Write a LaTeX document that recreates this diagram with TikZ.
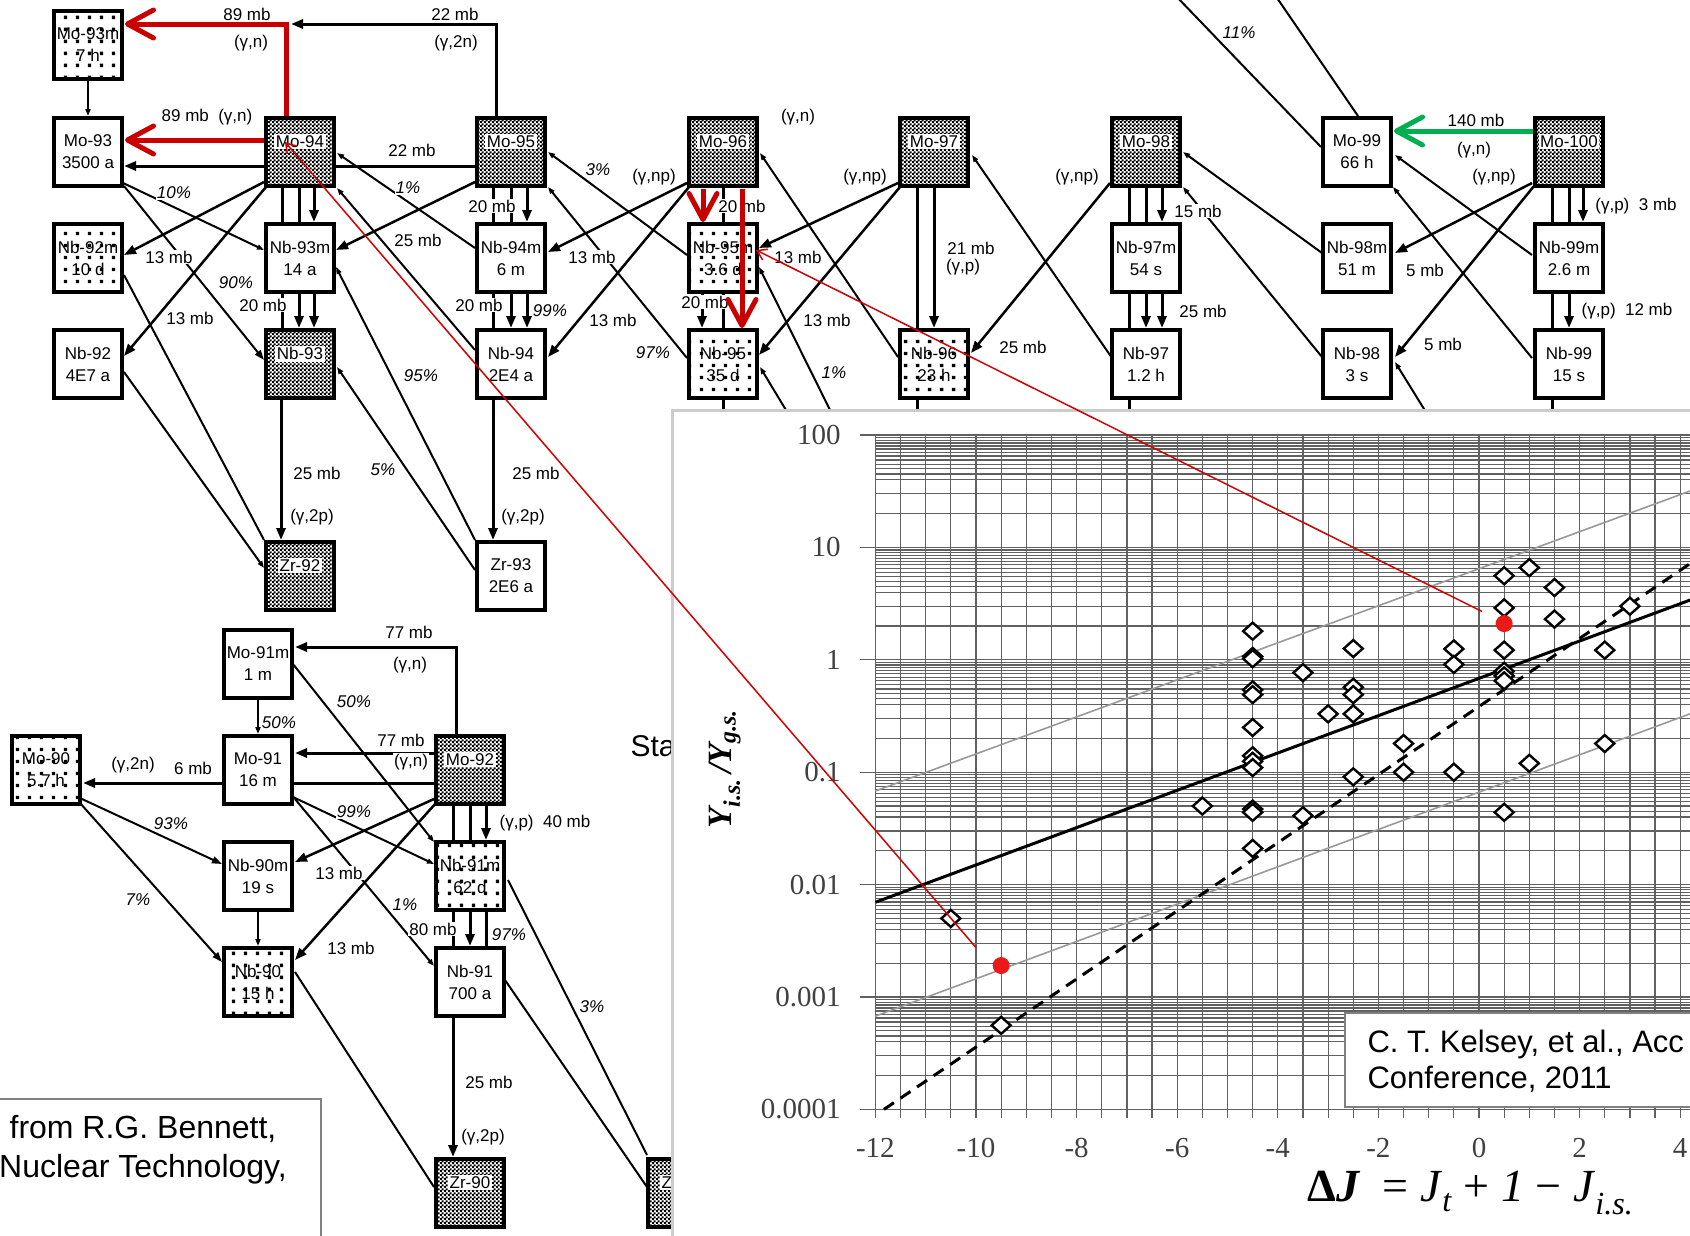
\documentclass[tikz,border=0pt]{standalone}
\usepackage{fontspec}
\setmainfont{Liberation Sans}
\newfontfamily\plotfont{Liberation Serif}
\usepackage{tikz}
\usetikzlibrary{positioning,arrows.meta,calc,patterns,backgrounds}

\pgfdeclarepatternformonly{finecheck}{\pgfpointorigin}{\pgfqpoint{4pt}{4pt}}{\pgfqpoint{4pt}{4pt}}{%
  \pgfpathrectangle{\pgfpointorigin}{\pgfqpoint{2.4pt}{2.4pt}}%
  \pgfpathrectangle{\pgfqpoint{2pt}{2pt}}{\pgfqpoint{2.4pt}{2.4pt}}%
  \pgfusepath{fill}}
\pgfdeclarepatternformonly{sparsedots}{\pgfpointorigin}{\pgfqpoint{12pt}{12pt}}{\pgfqpoint{12pt}{12pt}}{%
  \pgfpathrectangle{\pgfqpoint{4.25pt}{4.25pt}}{\pgfqpoint{3.5pt}{3.5pt}}%
  \pgfusepath{fill}}

\definecolor{redarrow}{RGB}{200,0,0}
\definecolor{greenarrow}{RGB}{0,176,80}
\definecolor{pointerred}{RGB}{210,0,0}
\definecolor{reddot}{RGB}{235,25,25}

\newcommand{\stab}[1]{{\setlength{\fboxsep}{1.5pt}\colorbox{white}{#1}}}

\begin{document}
\begin{tikzpicture}[
    x=1pt, y=-1pt,
    font=\fontsize{17}{22}\selectfont,
    nuclide/.style={draw, line width=3.5pt, minimum width=68pt, minimum height=68pt,
      inner sep=0pt, align=center},
    plainnuc/.style={nuclide, fill=white},
    dotnuc/.style={nuclide, preaction={fill=white}, pattern=sparsedots},
    stablenuc/.style={nuclide, preaction={fill=white}, pattern=finecheck},
    rxn/.style={line width=3pt, -{Triangle[length=12pt,width=9pt]}},
    slantrxn/.style={line width=2.5pt, -{Triangle[length=12pt,width=9pt]}},
    linkbar/.style={line width=3pt},
    decay/.style={line width=2pt, -{Triangle[length=7pt,width=5pt]}},
    decaybig/.style={line width=2pt, -{Triangle[length=10pt,width=7pt]}},
    decayline/.style={line width=2pt},
    bigred/.style={draw=redarrow, line width=5pt,
      -{Straight Barb[length=26pt,width=28pt,line cap=round,line join=round]}},
    biggreen/.style={bigred, draw=greenarrow},
    pointer/.style={draw=pointerred, line width=1.5pt, -{Straight Barb[length=9pt,width=12pt]}},
    lab/.style={fill=white, inner sep=1pt},
    pct/.style={lab, font=\fontsize{17}{22}\selectfont\itshape},
    gridline/.style={draw=black!62, line width=1.2pt},
    fitgray/.style={draw=black!40, line width=1.6pt},
    fitsolid/.style={draw=black, line width=3pt},
    fitdash/.style={draw=black, line width=3pt, dash pattern=on 12pt off 8pt},
    diam/.style={draw=black, fill=white, line width=2.4pt},
    ticklab/.style={font=\plotfont\fontsize{29}{31}\selectfont, text=black!75},
    citeframe/.style={draw=black!50, line width=1.2pt, fill=white}
  ]
  \useasboundingbox (0,0) rectangle (1690,1235);

  % upper chart
  \node[dotnuc] (mo93m) at (88,45) {Mo-93m\\7 h};
  \node[plainnuc] (mo93) at (88,152) {Mo-93\\3500 a};
  \node[stablenuc] (mo94) at (300,152) {\stab{Mo-94}\\\mbox{}};
  \node[stablenuc] (mo95) at (511,152) {\stab{Mo-95}\\\mbox{}};
  \node[stablenuc] (mo96) at (723,152) {\stab{Mo-96}\\\mbox{}};
  \node[stablenuc] (mo97) at (934,152) {\stab{Mo-97}\\\mbox{}};
  \node[stablenuc] (mo98) at (1146,152) {\stab{Mo-98}\\\mbox{}};
  \node[plainnuc] (mo99) at (1357,152) {Mo-99\\66 h};
  \node[stablenuc] (mo100) at (1569,152) {\stab{Mo-100}\\\mbox{}};
  \node[dotnuc] (nb92m) at (88,258) {Nb-92m\\10 d};
  \node[plainnuc] (nb93m) at (300,258) {Nb-93m\\14 a};
  \node[plainnuc] (nb94m) at (511,258) {Nb-94m\\6 m};
  \node[dotnuc] (nb95m) at (723,258) {Nb-95m\\3.6 d};
  \node[plainnuc] (nb97m) at (1146,258) {Nb-97m\\54 s};
  \node[plainnuc] (nb98m) at (1357,258) {Nb-98m\\51 m};
  \node[plainnuc] (nb99m) at (1569,258) {Nb-99m\\2.6 m};
  \node[plainnuc] (nb92) at (88,364) {Nb-92\\4E7 a};
  \node[stablenuc] (nb93) at (300,364) {\stab{Nb-93}\\\mbox{}};
  \node[plainnuc] (nb94) at (511,364) {Nb-94\\2E4 a};
  \node[dotnuc] (nb95) at (723,364) {Nb-95\\35 d};
  \node[dotnuc] (nb96) at (934,364) {Nb-96\\23 h};
  \node[plainnuc] (nb97) at (1146,364) {Nb-97\\1.2 h};
  \node[plainnuc] (nb98) at (1357,364) {Nb-98\\3 s};
  \node[plainnuc] (nb99) at (1569,364) {Nb-99\\15 s};
  \node[stablenuc] (zr92) at (300,576) {\stab{Zr-92}\\\mbox{}};
  \node[plainnuc] (zr93) at (511,576) {Zr-93\\2E6 a};

  % lower chart
  \node[plainnuc] (mo91m) at (258,664) {Mo-91m\\1 m};
  \node[dotnuc] (mo90) at (46,770) {Mo-90\\5.7 h};
  \node[plainnuc] (mo91) at (258,770) {Mo-91\\16 m};
  \node[stablenuc] (mo92) at (470,770) {\stab{Mo-92}\\\mbox{}};
  \node[plainnuc] (nb90m) at (258,876) {Nb-90m\\19 s};
  \node[dotnuc] (nb91m) at (470,876) {Nb-91m\\62 d};
  \node[dotnuc] (nb90) at (258,982) {Nb-90\\15 h};
  \node[plainnuc] (nb91) at (470,982) {Nb-91\\700 a};
  \node[stablenuc] (zr90) at (470,1193) {\stab{Zr-90}\\\mbox{}};
  \node[stablenuc] (zr91) at (682,1193) {\stab{Zr-91}\\\mbox{}};

  \coordinate (topa) at (1175,-5);
  \coordinate (topb) at (1275,-5);
  \coordinate (ua) at (723,440);
  \coordinate (ub) at (917,440);
  \coordinate (uc) at (1129,440);
  \coordinate (ud) at (1552,440);
  \coordinate (ue) at (840,430);
  \coordinate (uf) at (798,430);
  \coordinate (ug) at (1437,430);

  \begin{scope}[on background layer]
    % (g,n) and (g,2n)
    \draw[rxn] ($(mo95)+(-15,-36)$) |- ($(mo94)+(-9,-128)$);
    \draw[decay] ($(mo93m)+(0,36)$) -- ($(mo93)+(0,-36)$);
    \draw[rxn] ($(mo95)+(-36,14)$) -- ($(mo93)+(36,14)$);
    % (g,np)
    \draw[slantrxn] ($(mo94)+(-36,30)$) -- ($(nb92m)+(36,-3)$);
    \draw[slantrxn] ($(mo94)+(-34,35)$) -- ($(nb92)+(36,-8)$);
    \draw[slantrxn] ($(mo95)+(-36,30)$) -- ($(nb93m)+(36,-8)$);
    \draw[slantrxn] ($(mo96)+(-36,31)$) -- ($(nb94m)+(37,-6)$);
    \draw[slantrxn] ($(mo96)+(-34,35)$) -- ($(nb94)+(37,-7)$);
    \draw[slantrxn] ($(mo97)+(-36,31)$) -- ($(nb95m)+(36,-10)$);
    \draw[slantrxn] ($(mo97)+(-34,35)$) -- ($(nb95)+(36,-9)$);
    \draw[slantrxn] ($(mo98)+(-36,31)$) -- ($(nb96)+(37,-11)$);
    \draw[slantrxn] ($(mo100)+(-37,31)$) -- ($(nb98m)+(38,-5)$);
    \draw[slantrxn] ($(mo100)+(-35,34)$) -- ($(nb98)+(38,-7)$);
    % decays
    \draw[decay] ($(mo93)+(33,30)$) -- ($(nb93m)+(-36,-8)$);
    \draw[decaybig] ($(mo93)+(36,34)$) -- ($(nb93)+(-36,-4)$);
    \draw[decay] ($(nb94m)+(-36,-10)$) -- ($(mo94)+(37,1)$);
    \draw[decay] ($(nb94)+(-36,-14)$) -- ($(mo94)+(37,36)$);
    \draw[decay] ($(nb95m)+(-36,-3)$) -- ($(mo95)+(37,0)$);
    \draw[decay] ($(nb95)+(-36,-6)$) -- ($(mo95)+(37,35)$);
    \draw[decay] ($(nb96)+(-36,-7)$) -- ($(mo96)+(37,1)$);
    \draw[decay] ($(nb97)+(-34,-6)$) -- ($(mo97)+(38,3)$);
    \draw[decay] ($(nb98m)+(-35,-5)$) -- ($(mo98)+(37,0)$);
    \draw[decay] ($(nb98)+(-35,-7)$) -- ($(mo98)+(37,35)$);
    \draw[decay] ($(nb99m)+(-37,-3)$) -- ($(mo99)+(38,3)$);
    \draw[decay] ($(nb99)+(-37,-6)$) -- ($(mo99)+(36,35)$);
    \draw[decayline] (topa) -- ($(mo99)+(-36,-5)$);
    \draw[decayline] (topb) -- ($(mo99)+(1,-36)$);
    % (g,p) stacks
    \draw[linkbar] ($(mo94)+(-18,36)$) -- ($(nb93m)+(-18,-36)$);
    \draw[linkbar] ($(mo94)+(-1,36)$) -- ($(nb93m)+(-1,-36)$);
    \draw[rxn] ($(mo94)+(14,36)$) -- ($(nb93m)+(14,-36)$);
    \draw[linkbar] ($(nb93m)+(-18,36)$) -- ($(nb93)+(-18,-36)$);
    \draw[rxn] ($(nb93m)+(-1,36)$) -- ($(nb93)+(-1,-36)$);
    \draw[rxn] ($(nb93m)+(14,36)$) -- ($(nb93)+(14,-36)$);
    \draw[linkbar] ($(mo95)+(-18,36)$) -- ($(nb94m)+(-18,-36)$);
    \draw[linkbar] ($(mo95)+(0,36)$) -- ($(nb94m)+(0,-36)$);
    \draw[rxn] ($(mo95)+(16,36)$) -- ($(nb94m)+(16,-36)$);
    \draw[linkbar] ($(nb94m)+(-18,36)$) -- ($(nb94)+(-18,-36)$);
    \draw[rxn] ($(nb94m)+(0,36)$) -- ($(nb94)+(0,-36)$);
    \draw[rxn] ($(nb94m)+(16,36)$) -- ($(nb94)+(16,-36)$);
    \draw[linkbar] ($(mo96)+(0,36)$) -- ($(nb95m)+(0,-36)$);
    \draw[rxn] ($(nb95m)+(-21,36)$) -- ($(nb95)+(-21,-36)$);
    \draw[linkbar] ($(nb95m)+(0,36)$) -- ($(nb95)+(0,-36)$);
    \draw[linkbar] ($(mo97)+(-17,36)$) -- ($(nb96)+(-17,-36)$);
    \draw[rxn] ($(mo97)+(0,36)$) -- ($(nb96)+(0,-36)$);
    \draw[linkbar] ($(mo98)+(-17,36)$) -- ($(nb97m)+(-17,-36)$);
    \draw[linkbar] ($(mo98)+(0,36)$) -- ($(nb97m)+(0,-36)$);
    \draw[rxn] ($(mo98)+(16,36)$) -- ($(nb97m)+(16,-36)$);
    \draw[linkbar] ($(nb97m)+(-17,36)$) -- ($(nb97)+(-17,-36)$);
    \draw[rxn] ($(nb97m)+(0,36)$) -- ($(nb97)+(0,-36)$);
    \draw[rxn] ($(nb97m)+(16,36)$) -- ($(nb97)+(16,-36)$);
    \draw[linkbar] ($(mo100)+(-17,36)$) -- ($(nb99m)+(-17,-36)$);
    \draw[linkbar] ($(mo100)+(0,36)$) -- ($(nb99m)+(0,-36)$);
    \draw[rxn] ($(mo100)+(14,36)$) -- ($(nb99m)+(14,-36)$);
    \draw[linkbar] ($(nb99m)+(-17,36)$) -- ($(nb99)+(-17,-36)$);
    \draw[rxn] ($(nb99m)+(0,36)$) -- ($(nb99)+(0,-36)$);
    % zirconium
    \draw[decay] ($(nb92)+(36,8)$) -- ($(zr92)+(-36,-8)$);
    \draw[decayline] ($(nb92m)+(36,17)$) -- ($(zr92)+(-36,-36)$);
    \draw[decay] ($(zr93)+(-36,-6)$) -- ($(nb93)+(37,3)$);
    \draw[decay] ($(zr93)+(-36,-36)$) -- ($(nb93m)+(36,9)$);
    \draw[rxn] ($(nb93)+(-19,36)$) -- ($(zr92)+(-19,-36)$);
    \draw[rxn] ($(nb94)+(-18,36)$) -- ($(zr93)+(-18,-36)$);
    % running under the plot
    \draw[linkbar] ($(nb95)+(0,36)$) -- (ua);
    \draw[linkbar] ($(nb96)+(-17,36)$) -- (ub);
    \draw[linkbar] ($(nb97)+(-17,36)$) -- (uc);
    \draw[linkbar] ($(nb99)+(-17,36)$) -- (ud);
    \draw[decay] (ue) -- ($(nb95m)+(36,9)$);
    \draw[decay] (uf) -- ($(nb95)+(37,3)$);
    \draw[decay] (ug) -- ($(nb98)+(38,-2)$);

    % lower chart connectors
    \draw[rxn] ($(mo92)+(-14,-36)$) |- ($(mo91m)+(37,-17)$);
    \draw[rxn] ($(mo92)+(-36,-17)$) -- ($(mo91)+(37,-17)$);
    \draw[rxn] ($(mo92)+(-36,13)$) -- ($(mo90)+(37,13)$);
    \draw[decay] ($(mo91m)+(0,36)$) -- ($(mo91)+(0,-36)$);
    \draw[decay] ($(mo91m)+(35,0)$) -- ($(nb91m)+(-36,-34)$);
    \draw[decay] ($(mo91)+(35,27)$) -- ($(nb91m)+(-36,-12)$);
    \draw[decay] ($(mo91)+(37,29)$) -- ($(nb91)+(-36,-16)$);
    \draw[slantrxn] ($(mo92)+(-36,29)$) -- ($(nb90m)+(37,-14)$);
    \draw[slantrxn] ($(mo92)+(-34,33)$) -- ($(nb90)+(37,-22)$);
    \draw[decaybig] ($(mo90)+(36,29)$) -- ($(nb90m)+(-36,-12)$);
    \draw[decaybig] ($(mo90)+(34,33)$) -- ($(nb90)+(-36,-20)$);
    \draw[decay] ($(nb90m)+(0,36)$) -- ($(nb90)+(0,-36)$);
    \draw[linkbar] ($(mo92)+(-17,36)$) -- ($(nb91m)+(-17,-36)$);
    \draw[linkbar] ($(mo92)+(0,36)$) -- ($(nb91m)+(0,-36)$);
    \draw[rxn] ($(mo92)+(16,36)$) -- ($(nb91m)+(16,-36)$);
    \draw[linkbar] ($(nb91m)+(-17,36)$) -- ($(nb91)+(-17,-36)$);
    \draw[rxn] ($(nb91m)+(0,36)$) -- ($(nb91)+(0,-36)$);
    \draw[linkbar] ($(nb91m)+(16,36)$) -- ($(nb91)+(16,-36)$);
    \draw[rxn] ($(nb91)+(-17,36)$) -- ($(zr90)+(-17,-36)$);
    \draw[decayline] ($(nb90)+(37,-10)$) -- ($(zr90)+(-36,-6)$);
    \draw[decayline] ($(nb91)+(35,-2)$) -- ($(zr91)+(-35,-6)$);
    \draw[decayline] ($(nb91m)+(38,4)$) -- ($(zr91)+(-35,-38)$);
  \end{scope}

  % labels, upper chart
  \node[lab] (xs89a) at (247,14) {89 mb};
  \node[lab] (gn89a) at (251,43) {(γ,n)};
  \node[lab] (xs22a) at (455,14) {22 mb};
  \node[lab] (g2n22) at (456,43) {(γ,2n)};
  \node[lab] (xs89b) at (207,117) {89 mb\ \ (γ,n)};
  \node[lab] (xs22b) at (412,150) {22 mb};
  \node[lab] (xs13a) at (169,257) {13 mb};
  \node[lab] (xs13b) at (190,318) {13 mb};
  \node[lab] (xs25a) at (418,240) {25 mb};
  \node[pct] (pc10) at (174,193) {10\%};
  \node[pct] (pc90) at (236,283) {90\%};
  \node[pct] (pc1a) at (408,188) {1\%};
  \node[pct] (pc95) at (421,376) {95\%};
  \node[lab] (xs20a) at (263,305) {20 mb};
  \node[lab] (xs20b) at (492,206) {20 mb};
  \node[lab] (xs20c) at (479,305) {20 mb};
  \node[pct] (pc99a) at (550,311) {99\%};
  \node[pct] (pc3a) at (598,170) {3\%};
  \node[lab] (gnp96) at (654,177) {(γ,np)};
  \node[lab] (xs13c) at (592,257) {13 mb};
  \node[lab] (xs13d) at (613,320) {13 mb};
  \node[pct] (pc97a) at (653,353) {97\%};
  \node[lab] (xs20d) at (742,206) {20 mb};
  \node[lab] (xs20e) at (705,302) {20 mb};
  \node[lab] (gn96) at (798,117) {(γ,n)};
  \node[lab] (xs13e) at (798,257) {13 mb};
  \node[lab] (xs13f) at (827,320) {13 mb};
  \node[pct] (pc1b) at (834,373) {1\%};
  \node[lab] (gnp97) at (865,177) {(γ,np)};
  \node[lab] (xs21) at (971,248) {21 mb};
  \node[lab] (gp97) at (963,267) {(γ,p)};
  \node[lab] (gnp98) at (1077,177) {(γ,np)};
  \node[lab] (xs25b) at (1023,347) {25 mb};
  \node[lab] (xs15) at (1198,211) {15 mb};
  \node[lab] (xs25c) at (1203,311) {25 mb};
  \node[pct] (pc11) at (1239,33) {11\%};
  \node[lab] (xs140) at (1476,120) {140 mb};
  \node[lab] (gn100) at (1474,150) {(γ,n)};
  \node[lab] (gnp100) at (1494,177) {(γ,np)};
  \node[lab] (xs3) at (1636,206) {(γ,p)\ \ 3 mb};
  \node[lab] (xs5a) at (1425,270) {5 mb};
  \node[lab] (xs12) at (1627,311) {(γ,p)\ \ 12 mb};
  \node[lab] (xs5b) at (1443,344) {5 mb};
  \node[lab] (xs25d) at (317,473) {25 mb};
  \node[lab] (g2p92) at (312,517) {(γ,2p)};
  \node[pct] (pc5) at (383,470) {5\%};
  \node[lab] (xs25e) at (536,473) {25 mb};
  \node[lab] (g2p93) at (523,517) {(γ,2p)};

  % labels, lower chart
  \node[lab] (xs77a) at (409,632) {77 mb};
  \node[lab] (gn77a) at (410,665) {(γ,n)};
  \node[pct] (pc50a) at (354,702) {50\%};
  \node[pct] (pc50b) at (279,723) {50\%};
  \node[lab] (xs77b) at (401,740) {77 mb};
  \node[lab] (gn77b) at (411,762) {(γ,n)};
  \node[pct] (pc99b) at (354,812) {99\%};
  \node[lab] (g2n6) at (133,765) {(γ,2n)};
  \node[lab] (xs6) at (193,768) {6 mb};
  \node[pct] (pc93) at (171,824) {93\%};
  \node[pct] (pc7) at (138,900) {7\%};
  \node[lab] (xs13g) at (339,873) {13 mb};
  \node[pct] (pc1c) at (405,905) {1\%};
  \node[lab] (xs13h) at (351,948) {13 mb};
  \node[lab] (xs40) at (545,823) {(γ,p)\ \ 40 mb};
  \node[lab] (xs80) at (433,929) {80 mb};
  \node[pct] (pc97b) at (509,935) {97\%};
  \node[lab] (xs25f) at (489,1082) {25 mb};
  \node[lab] (g2p90) at (483,1137) {(γ,2p)};
  \node[pct] (pc3b) at (592,1007) {3\%};

  % highlighted paths
  \draw[bigred] ($(mo94)+(-14,-36)$) |- ($(mo93m)+(37,-21)$);
  \draw[bigred] ($(mo94)+(-36,-12)$) -- ($(mo93)+(37,-12)$);
  \draw[bigred] ($(mo96)+(-20,37)$) -- ($(nb95m)+(-20,-36)$);
  \draw[bigred] ($(mo96)+(19,37)$) -- ($(nb95)+(19,-36)$);
  \draw[biggreen] ($(mo100)+(-36,-21)$) -- ($(mo99)+(37,-21)$);

  \node[anchor=west, font=\fontsize{30}{34}\selectfont] (sta) at (627,746) {Sta};

  % isomer ratio plot
  \draw[draw=black!20, line width=3pt, fill=white] (672,410) rectangle (1710,1250);
  \begin{scope}[shift={(1479,659.8)}, x=50.3pt, y=112.4pt]
    \foreach \u in {-12,-11.5,...,4.5}
      \draw[gridline] (\u,-4.08) -- (\u,2);
    \foreach \d in {-4,...,1} {
      \draw[gridline] (-12.3,\d) -- (4.6,\d);
      \foreach \k in {2,3,4,4.5,5,5.5,6,6.5,7,7.5,8,8.5,9,9.5}
        \draw[gridline] (-12,{\d+log10(\k)}) -- (4.6,{\d+log10(\k)});
    }
    \draw[gridline] (-12.3,2) -- (4.6,2);
    \draw[fitgray] (-12,-1.167) -- (4.5,1.552);
    \draw[fitgray] (-12,-3.17) -- (4.5,-0.43);
    \draw[fitsolid] (-12,-2.157) -- (4.5,0.582);
    \draw[fitdash] (-11.83,-4) -- (4.5,0.948);
    \foreach \u/\L in {-10.5/-2.301,-9.5/-3.252,-5.5/-1.301,
        -4.5/0.255,-4.5/0.03,-4.5/0.01,-4.5/-0.268,-4.5/-0.31,-4.5/-0.602,
        -4.5/-0.854,-4.5/-0.903,-4.5/-0.959,-4.5/-1.328,-4.5/-1.357,-4.5/-1.678,
        -3.5/-0.114,-3.5/-1.387,-3/-0.481,
        -2.5/0.1,-2.5/-0.244,-2.5/-0.31,-2.5/-0.481,-2.5/-1.041,
        -1.5/-0.745,-1.5/-1.0,-0.5/0.097,-0.5/-0.041,-0.5/-1.0,
        0.5/0.748,0.5/0.462,0.5/0.086,0.5/-0.102,0.5/-0.143,0.5/-0.187,0.5/-1.357,
        1/0.82,1/-0.921,1.5/0.643,1.5/0.362,2.5/0.086,2.5/-0.745,3/0.477}
      \draw[diam] (\u,\L) +(0pt,8.5pt) -- +(9.5pt,0pt) -- +(0pt,-8.5pt) -- +(-9.5pt,0pt) -- cycle;
    \fill[reddot] (-9.5,-2.72) circle (8.5pt);
    \fill[reddot] (0.5,0.322) circle (8.5pt);
    \coordinate (ptra) at (-10,-2.56);
    \coordinate (ptrb) at (0.06,0.43);
    \foreach \L/\txt [count=\i] in {2/100,1/10,0/1,-1/0.1,-2/0.01,-3/0.001,-4/0.0001}
      \node[ticklab, anchor=east] (ytick\i) at (-12.62,\L) {\txt};
    \foreach \u [count=\i] in {-12,-10,...,4}
      \node[ticklab] (xtick\i) at (\u,-4.34) {\u};
  \end{scope}
  \node[rotate=90, font=\plotfont\fontsize{34}{40}\selectfont\bfseries\itshape] (ylab)
    at (725,769) {Y\textsubscript{i.s.}\,/Y\textsubscript{g.s.}};
  \node[anchor=west, font=\plotfont\fontsize{46}{50}\selectfont] (xlab) at (1304,1193)
    {{\bfseries Δ\textit{J}}\hspace{22pt}= \textit{J}\textsubscript{\textit{t}} + \textit{1} − \textit{J}\textsubscript{\textit{i.s.}}};

  \draw[pointer] (ptra) -- ($(mo94)+(-15,-10)$);
  \draw[pointer] (ptrb) -- ($(nb95m)+(33,-8)$);

  % sources
  \draw[citeframe] (1345,1013) rectangle (1710,1107);
  \node[anchor=west, align=left, font=\fontsize{31}{36}\selectfont] (kelsey) at (1364,1061)
    {C. T. Kelsey, et al., Acc\\Conference, 2011};
  \draw[citeframe] (-5,1099) rectangle (321,1250);
  \node[align=center, font=\fontsize{32}{39}\selectfont] (bennett) at (143,1150)
    {from R.G. Bennett,\\Nuclear Technology,};
\end{tikzpicture}
\end{document}
